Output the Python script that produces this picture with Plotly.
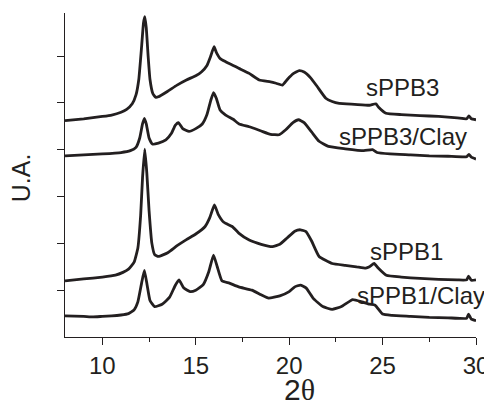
import plotly.graph_objects as go

# sPPB3 (top trace)
x_sppb3 = [8.0, 9.0, 10.0, 10.5, 11.0, 11.3, 11.6, 11.8, 11.95, 12.1, 12.2, 12.27, 12.35, 12.45, 12.55, 12.7, 12.85, 13.0,
           13.5, 14.0, 14.5, 15.0, 15.3, 15.6, 15.8, 15.98, 16.1, 16.3, 16.6, 17.0, 17.3, 17.86, 18.4, 19.0, 19.3, 19.64,
           19.9, 20.2, 20.54, 20.8, 21.16, 21.5, 21.96, 22.3, 22.68, 23.5, 24.3, 24.64, 24.8, 25.18, 26.0, 27.0, 28.0,
           29.0, 29.5, 29.62, 29.75, 30.0]
y_sppb3 = [4.62, 4.66, 4.71, 4.74, 4.80, 4.86, 4.98, 5.17, 5.5, 6.2, 6.7, 6.84, 6.6, 6.0, 5.5, 5.2, 5.12, 5.13,
           5.25, 5.38, 5.49, 5.58, 5.66, 5.8, 6.0, 6.2, 6.08, 5.95, 5.88, 5.8, 5.74, 5.63, 5.49, 5.45, 5.42, 5.38,
           5.5, 5.62, 5.69, 5.66, 5.53, 5.35, 5.1, 5.03, 4.99, 4.97, 4.95, 4.98, 4.9, 4.78, 4.75, 4.73, 4.71,
           4.68, 4.66, 4.72, 4.66, 4.64]

# sPPB3/Clay
x_sppb3c = [8.0, 9.0, 10.0, 11.0, 11.5, 11.8, 12.0, 12.15, 12.25, 12.35, 12.5, 12.68, 13.0, 13.4, 13.7, 13.9, 14.07,
            14.3, 14.64, 15.0, 15.35, 15.6, 15.8, 15.95, 16.1, 16.3, 16.6, 17.0, 17.32, 17.86, 18.5, 19.0, 19.46,
            19.8, 20.2, 20.5, 20.8, 21.2, 21.6, 22.1, 23.0, 24.0, 24.46, 24.7, 25.4, 26.5, 27.5, 28.5, 29.5, 29.62,
            29.75, 30.0]
y_sppb3c = [3.87, 3.89, 3.91, 3.94, 3.98, 4.05, 4.25, 4.55, 4.67, 4.55, 4.25, 4.12, 4.14, 4.21, 4.35, 4.52, 4.58,
            4.45, 4.39, 4.45, 4.55, 4.75, 5.05, 5.22, 5.1, 4.85, 4.74, 4.65, 4.55, 4.49, 4.4, 4.33, 4.32,
            4.42, 4.58, 4.64, 4.58, 4.38, 4.18, 4.07, 4.02, 3.98, 4.0, 3.94, 3.91, 3.89, 3.87, 3.86, 3.85, 3.9,
            3.84, 3.80]

# sPPB1
x_sppb1 = [8.0, 9.0, 10.0, 10.7, 11.1, 11.4, 11.7, 11.9, 12.05, 12.15, 12.27, 12.38, 12.5, 12.65, 12.8, 13.0, 13.5,
           14.0, 14.5, 15.0, 15.5, 15.75, 16.0, 16.2, 16.5, 16.95, 17.3, 17.86, 18.5, 19.1, 19.5, 19.9, 20.3, 20.6,
           20.9, 21.2, 21.6, 22.3, 23.0, 23.6, 24.1, 24.3, 24.55, 24.75, 25.2, 26.0, 27.0, 28.0, 29.0, 29.5, 29.6,
           29.75, 30.0]
y_sppb1 = [1.2, 1.24, 1.28, 1.32, 1.38, 1.45, 1.6, 1.9, 2.6, 3.4, 4.01, 3.5, 2.7, 2.0, 1.76, 1.72, 1.8,
           1.95, 2.08, 2.2, 2.36, 2.55, 2.82, 2.62, 2.45, 2.36, 2.22, 2.07, 1.98, 1.93, 1.98, 2.12, 2.26, 2.29,
           2.25, 2.05, 1.72, 1.57, 1.53, 1.5, 1.47, 1.5, 1.57, 1.48, 1.32, 1.28, 1.25, 1.23, 1.22, 1.22, 1.3,
           1.21, 1.22]

# sPPB1/Clay (bottom trace)
x_sppb1c = [8.0, 9.0, 9.5, 10.0, 10.5, 11.0, 11.4, 11.7, 11.9, 12.1, 12.25, 12.4, 12.55, 12.8, 13.2, 13.6, 13.9,
            14.1, 14.35, 14.7, 15.0, 15.4, 15.7, 15.95, 16.15, 16.4, 16.8, 17.3, 18.0, 18.5, 18.9, 19.5, 20.0, 20.3,
            20.6, 20.9, 21.3, 21.8, 22.3, 22.8, 23.4, 23.9, 24.3, 24.6, 25.0, 25.5, 26.5, 27.5, 28.5, 29.5, 29.6,
            29.75, 30.0]
y_sppb1c = [0.45, 0.44, 0.43, 0.44, 0.45, 0.47, 0.5, 0.58, 0.75, 1.15, 1.42, 1.1, 0.78, 0.65, 0.7, 0.85, 1.1,
            1.22, 1.05, 0.97, 1.0, 1.12, 1.4, 1.75, 1.5, 1.2, 1.15, 1.07, 1.0, 0.9, 0.83, 0.88, 0.97, 1.07,
            1.11, 1.05, 0.82, 0.65, 0.59, 0.65, 0.8, 0.75, 0.7, 0.68, 0.49, 0.46, 0.44, 0.42, 0.41, 0.4, 0.49,
            0.38, 0.35]

labels = ["sPPB3", "sPPB3/Clay", "sPPB1", "sPPB1/Clay"]
label_x = [26.05, 26.1, 26.3, 27.05]
label_y = [5.32, 4.28, 1.82, 0.88]

x_ticks = [10, 15, 20, 25, 30]
y_ticks = [1, 2, 3, 4, 5, 6]

LINE = "#231f20"
FONT = "Liberation Sans, Arial, sans-serif"

fig = go.Figure()
for xs, ys, name in [(x_sppb3, y_sppb3, labels[0]), (x_sppb3c, y_sppb3c, labels[1]),
                     (x_sppb1, y_sppb1, labels[2]), (x_sppb1c, y_sppb1c, labels[3])]:
    fig.add_trace(go.Scatter(x=xs, y=ys, mode="lines", name=name,
                             line=dict(color=LINE, width=2.8, shape="spline", smoothing=0.4),
                             showlegend=False, cliponaxis=False))

for t, lx, ly in zip(labels, label_x, label_y):
    fig.add_annotation(x=lx, y=ly, text=t, showarrow=False, xanchor="center", yanchor="middle",
                       font=dict(family=FONT, size=24, color="#231f20"))

# axis titles placed as annotations
fig.add_annotation(x=20.55, xref="x", y=-0.162, yref="paper",
                   text="2<span style='font-family:Liberation Serif'>θ</span>",
                   showarrow=False, xanchor="center", yanchor="middle", borderpad=0,
                   font=dict(family=FONT, size=30, color="#231f20"))
fig.add_annotation(x=-0.108, xref="paper", y=0.492, yref="paper", text="U.A.", textangle=-90,
                   showarrow=False, xanchor="center", yanchor="middle",
                   font=dict(family=FONT, size=25, color="#231f20"))

# the page body adds an 8px margin, so the figure is sized/margined to compensate
fig.update_layout(
    width=484, height=397,
    margin=dict(l=57, r=16, t=5, b=68, autoexpand=False),
    paper_bgcolor="white", plot_bgcolor="white",
    font=dict(family=FONT, color="#231f20"),
    xaxis=dict(range=[8, 30], tickvals=x_ticks, ticks="outside", ticklen=7, tickwidth=1,
               tickcolor="#231f20", showline=True, linecolor="#231f20", linewidth=1.2,
               showgrid=False, zeroline=False, tickfont=dict(size=24, family=FONT), automargin=False,
               minor=dict(dtick=2.5, tick0=0, ticks="outside", ticklen=4, tickcolor="#231f20")),
    yaxis=dict(range=[0, 6.92], tickvals=y_ticks, ticks="outside", ticklen=7, tickwidth=1,
               tickcolor="#231f20", showline=True, linecolor="#231f20", linewidth=1.2,
               showgrid=False, zeroline=False, showticklabels=False, automargin=False),
)

fig.write_html("out.html")
